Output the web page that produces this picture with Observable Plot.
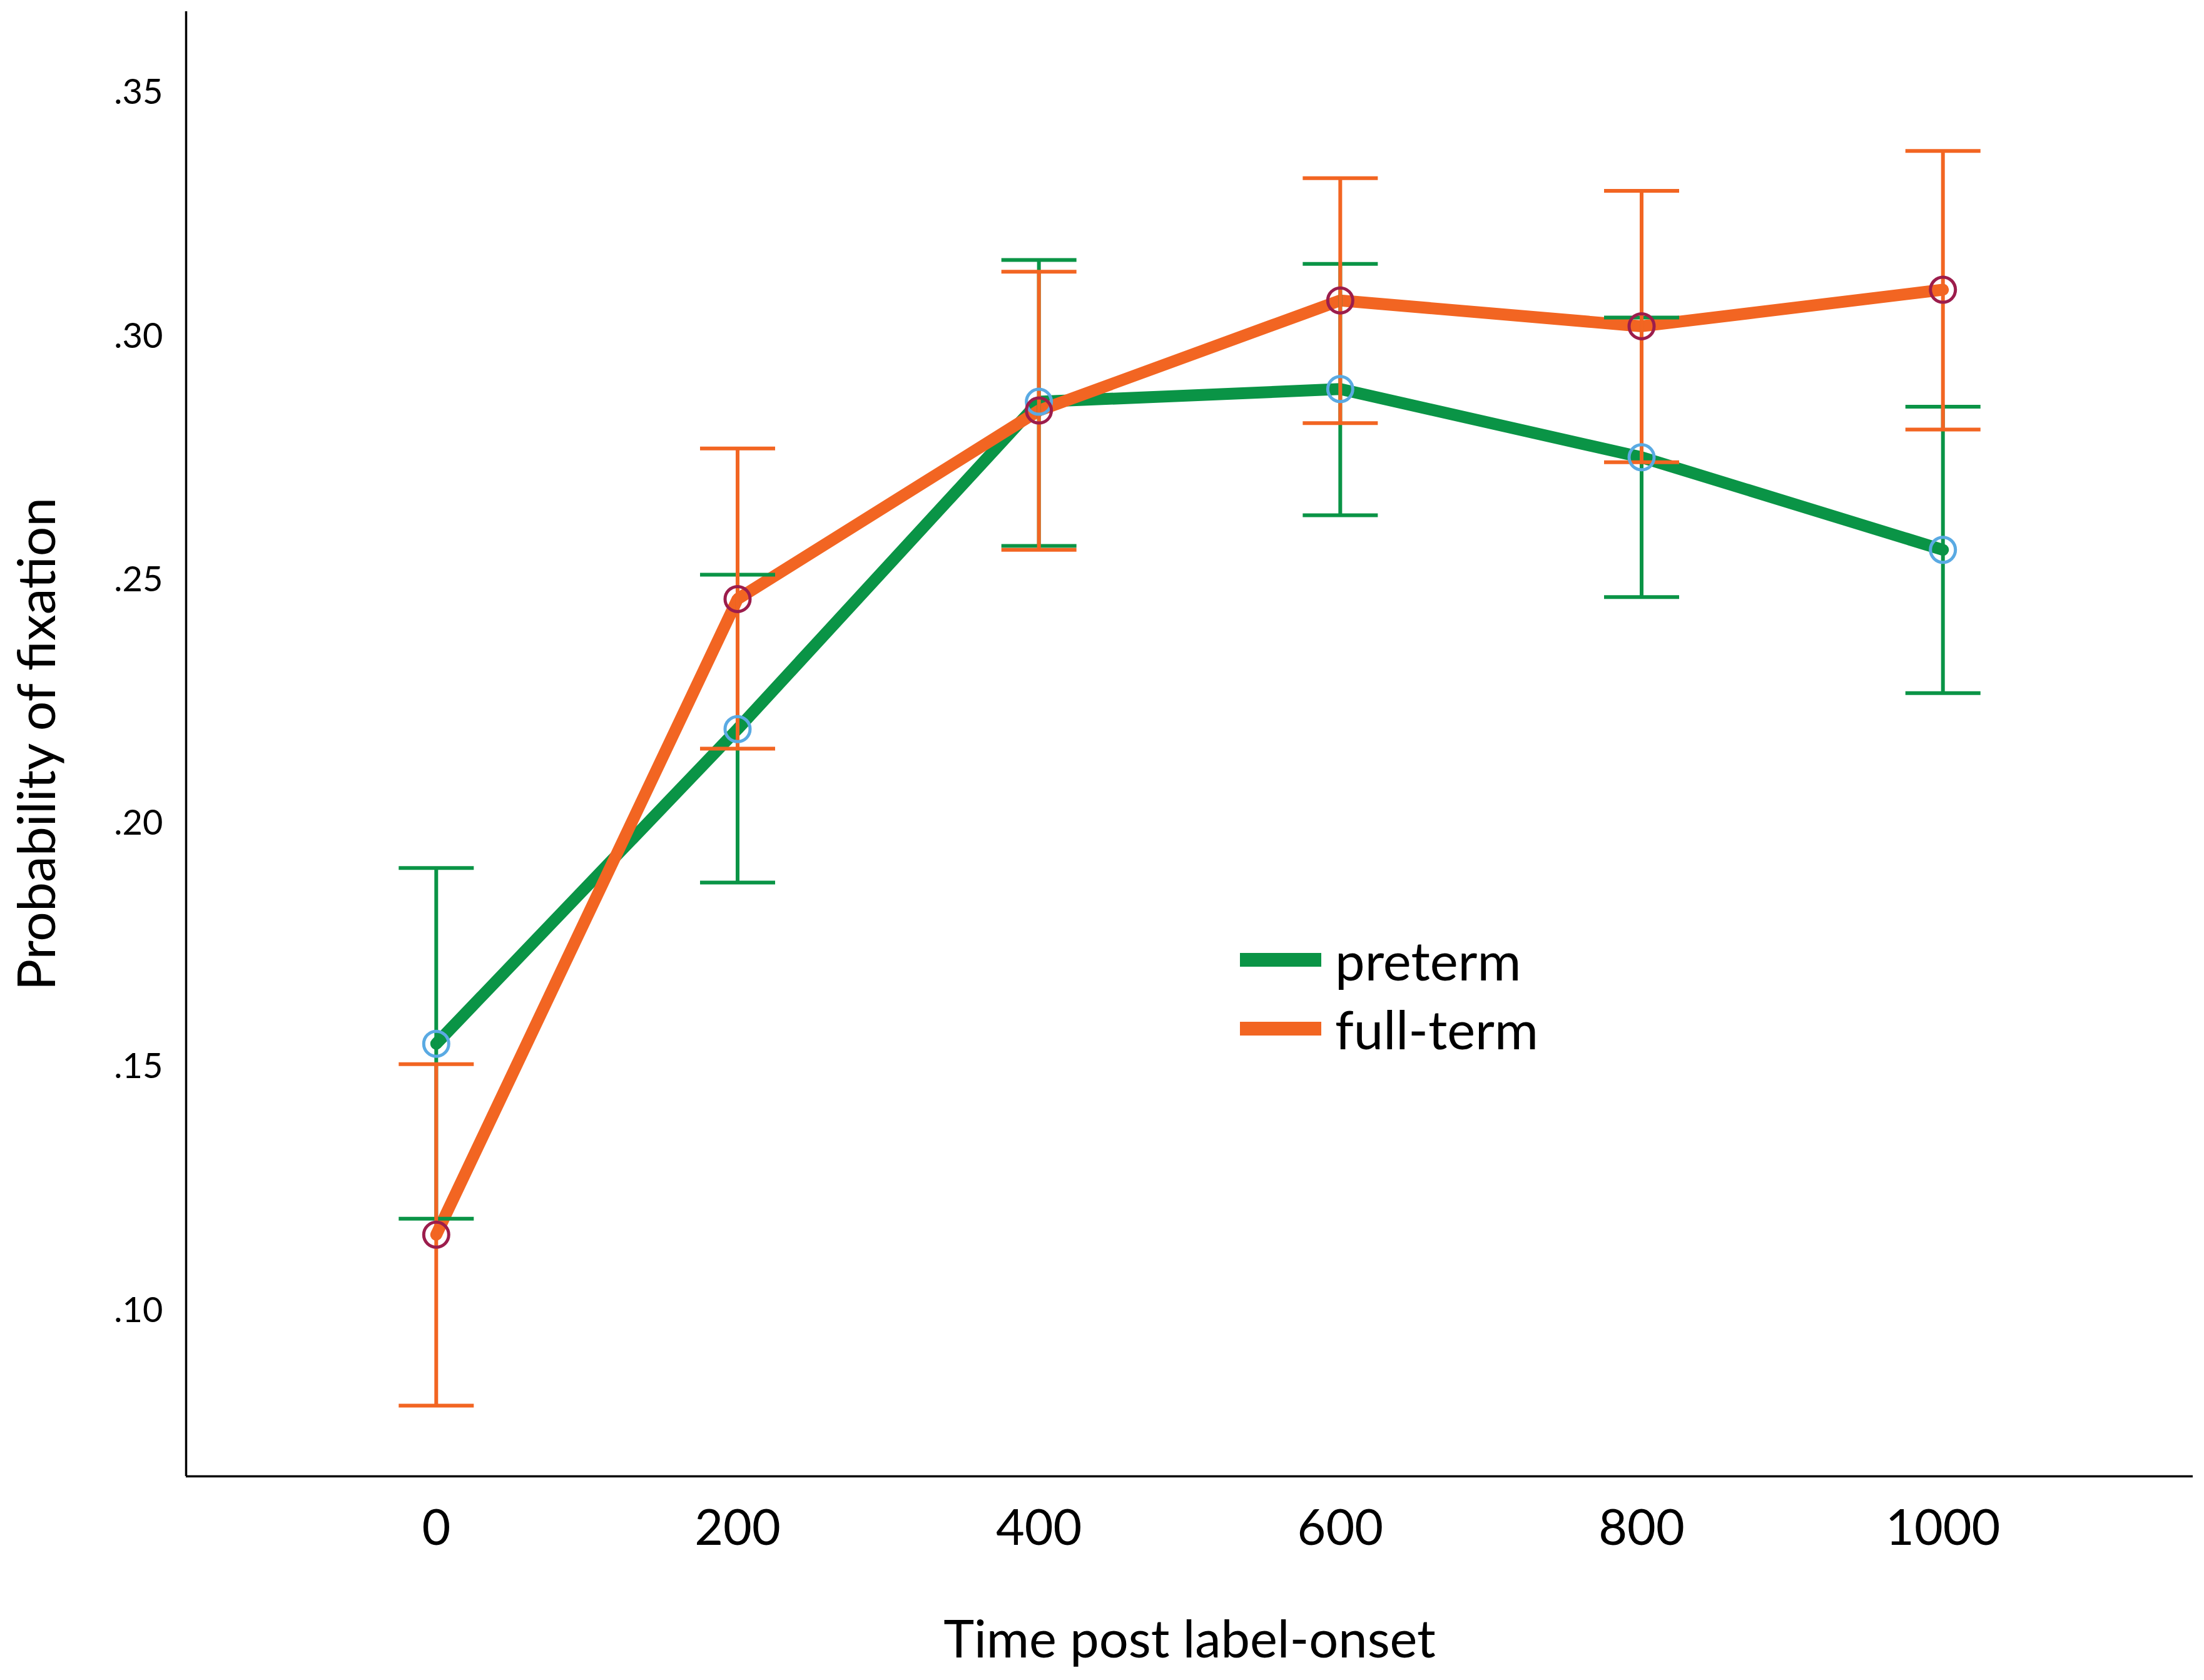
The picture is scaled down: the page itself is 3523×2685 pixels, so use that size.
<!DOCTYPE html>
<html>
<head>
<meta charset="utf-8">
<script src="https://cdn.jsdelivr.net/npm/d3@7"></script>
<script src="https://cdn.jsdelivr.net/npm/@observablehq/plot@0.6"></script>
<style>
  html, body { margin: 0; padding: 0; background: #fff; }
  #wrap { position: relative; width: 3523px; height: 2685px; font-family: Lato, "Open Sans", sans-serif; }
  #legend { position: absolute; left: 1982px; top: 1479px; }
  .item { display: flex; align-items: center; height: 110px; }
  .sw { width: 130px; height: 22px; margin-right: 22px; }
  .lab { font-size: 85px; color: #000; line-height: 1; }
</style>
</head>
<body>
<div id="wrap"></div>
<script>
const times = [0, 200, 400, 600, 800, 1000];
const groups = ["preterm", "full-term"];
const pretermMean = [0.1548, 0.2194, 0.2866, 0.2892, 0.2752, 0.2562];
const pretermLow  = [0.1189, 0.1879, 0.2570, 0.2633, 0.2465, 0.2268];
const pretermHigh = [0.1909, 0.2511, 0.3157, 0.3149, 0.3039, 0.2856];
const fulltermMean = [0.1156, 0.2461, 0.2848, 0.3074, 0.3021, 0.3096];
const fulltermLow  = [0.0805, 0.2154, 0.2562, 0.2822, 0.2742, 0.2809];
const fulltermHigh = [0.1506, 0.2770, 0.3133, 0.3325, 0.3299, 0.3381];
const yTicks = [0.10, 0.15, 0.20, 0.25, 0.30, 0.35];
const xDomain = [-166, 1166];
const yDomain = [0.066, 0.3667];
const xTitle = "Time post label-onset";
const yTitle = "Probability of fixation";

const lineColor = {"preterm": "#0a9446", "full-term": "#f26522"};
const markerColor = {"preterm": "#5aaae3", "full-term": "#9c1d4c"};

const pre = times.map((t, i) => ({time: t, mean: pretermMean[i], low: pretermLow[i], high: pretermHigh[i]}));
const full = times.map((t, i) => ({time: t, mean: fulltermMean[i], low: fulltermLow[i], high: fulltermHigh[i]}));

const hline = {draw(context, size) { const r = Math.sqrt(size / Math.PI); context.moveTo(-r, 0); context.lineTo(r, 0); }};

function errorBars(data, color) {
  return [
    Plot.ruleX(data, {x: "time", y1: "low", y2: "high", stroke: color, strokeWidth: 6}),
    Plot.dot(data, {x: "time", y: "low", symbol: hline, r: 60, fill: "none", stroke: color, strokeWidth: 6}),
    Plot.dot(data, {x: "time", y: "high", symbol: hline, r: 60, fill: "none", stroke: color, strokeWidth: 6})
  ];
}

const chart = Plot.plot({
  width: 3523,
  height: 2685,
  marginLeft: 297,
  marginRight: 18,
  marginTop: 18,
  marginBottom: 326,
  x: {domain: xDomain},
  y: {domain: yDomain},
  style: {fontFamily: "Lato, 'Open Sans', sans-serif", background: "white", color: "black"},
  marks: [
    Plot.axisY({ticks: yTicks, tickSize: 0, tickPadding: 37, fontSize: 56, label: null,
      tickFormat: d => d3.format(".2f")(d).replace(/^0/, "")}),
    Plot.axisX({ticks: times, tickSize: 0, tickPadding: 53, fontSize: 79, label: null,
      tickFormat: d => String(d)}),
    Plot.ruleX([xDomain[0]], {stroke: "black", strokeWidth: 3.5}),
    Plot.ruleY([yDomain[0]], {stroke: "black", strokeWidth: 3.5}),
    Plot.line(pre, {x: "time", y: "mean", stroke: lineColor["preterm"], strokeWidth: 19, strokeLinejoin: "miter"}),
    Plot.line(full, {x: "time", y: "mean", stroke: lineColor["full-term"], strokeWidth: 19, strokeLinejoin: "miter"}),
    ...errorBars(pre, lineColor["preterm"]),
    ...errorBars(full, lineColor["full-term"]),
    Plot.dot(pre, {x: "time", y: "mean", r: 20, fill: "none", stroke: markerColor["preterm"], strokeWidth: 5}),
    Plot.dot(full, {x: "time", y: "mean", r: 20, fill: "none", stroke: markerColor["full-term"], strokeWidth: 5}),
    Plot.text([xTitle], {text: d => d, frameAnchor: "bottom", dy: 263, textAnchor: "middle", lineAnchor: "middle", fontSize: 83}),
    Plot.text([yTitle], {text: d => d, frameAnchor: "left", dx: -236, rotate: -90, textAnchor: "middle", lineAnchor: "middle", fontSize: 84})
  ]
});

const wrap = document.getElementById("wrap");
wrap.appendChild(chart);

const legend = document.createElement("div");
legend.id = "legend";
groups.forEach(g => {
  const item = document.createElement("div");
  item.className = "item";
  const sw = document.createElement("div");
  sw.className = "sw";
  sw.style.background = lineColor[g];
  const lab = document.createElement("span");
  lab.className = "lab";
  lab.textContent = g;
  item.appendChild(sw);
  item.appendChild(lab);
  legend.appendChild(item);
});
wrap.appendChild(legend);
</script>
</body>
</html>
